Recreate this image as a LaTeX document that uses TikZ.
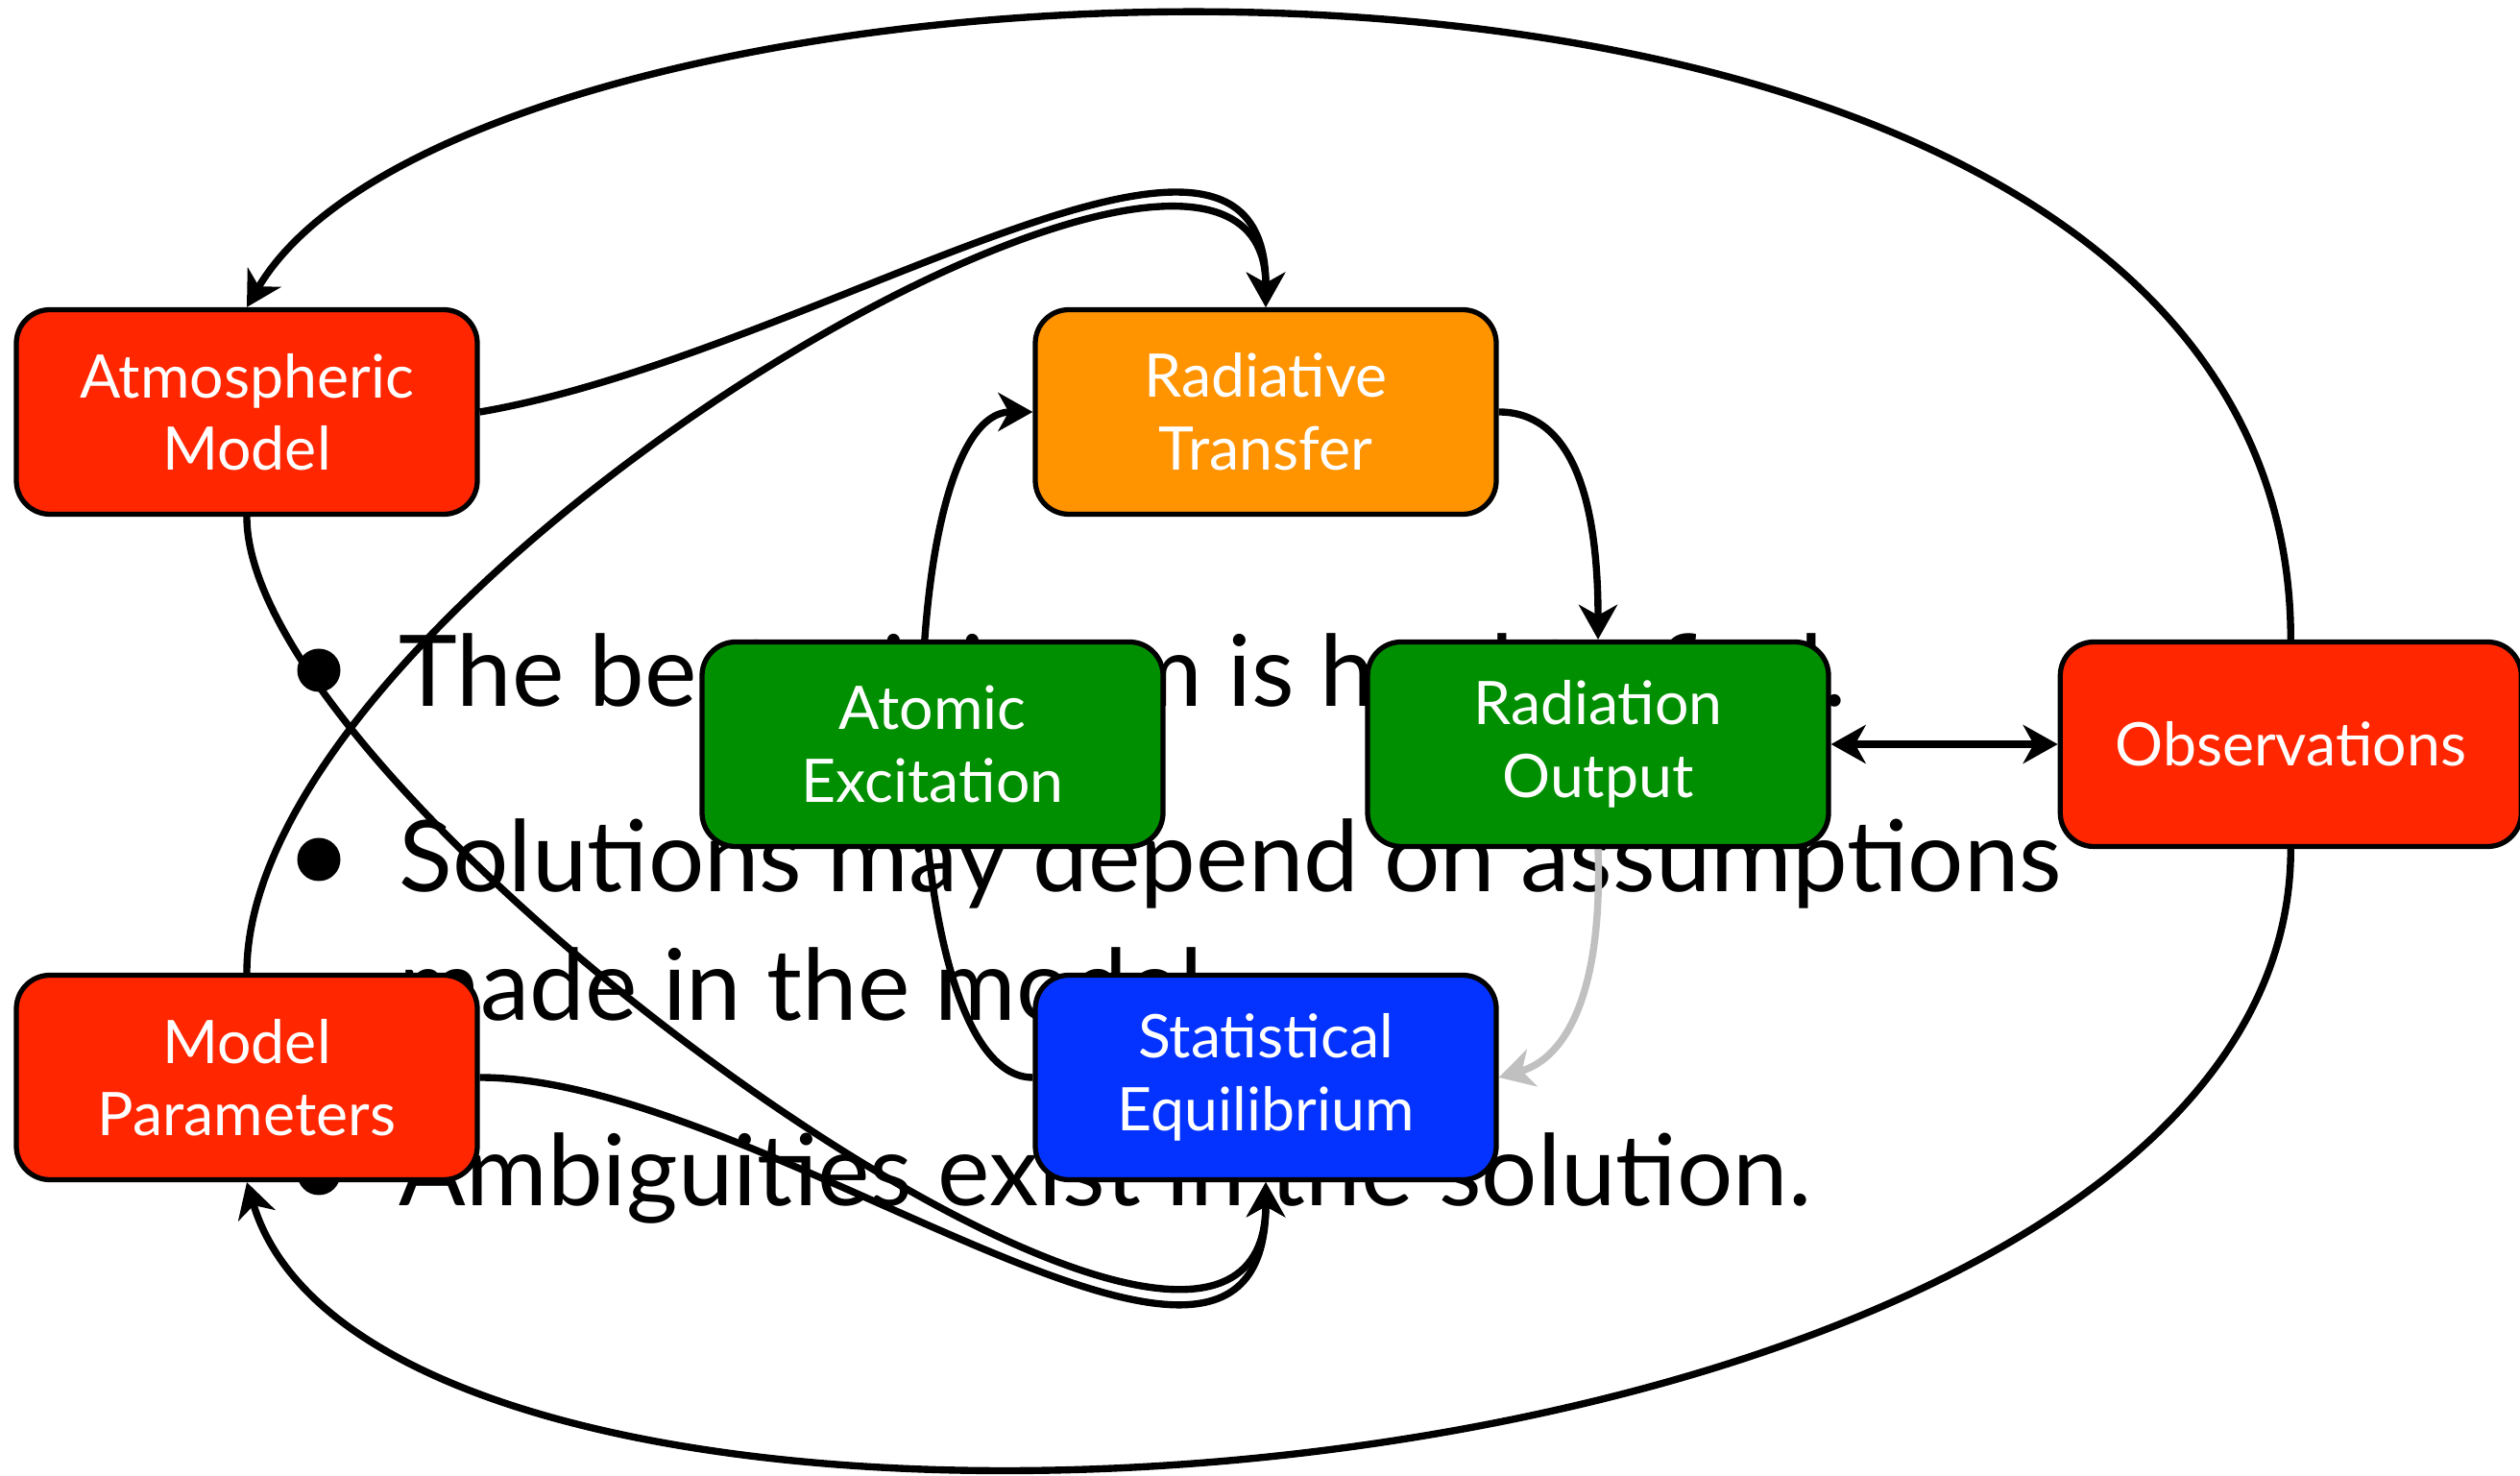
\documentclass[tikz,border=0pt]{standalone}
\usepackage{fontspec}
\setmainfont{Lato}
\usetikzlibrary{arrows.meta, positioning}

\definecolor{maraschino}{RGB}{255,38,0}
\definecolor{tangerine}{RGB}{255,147,0}
\definecolor{clover}{RGB}{0,143,0}
\definecolor{blueberry}{RGB}{4,51,255}
\definecolor{faintgray}{RGB}{192,192,192}

\pgfdeclarelayer{textlayer}
\pgfdeclarelayer{edgelayer}
\pgfsetlayers{textlayer,edgelayer,main}

\begin{document}
\begin{tikzpicture}[
    >={Stealth[length=0.36cm, width=0.4cm, inset=0.11cm]},
    every node/.style={font=\fontsize{17.8}{21.5}\selectfont},
    box/.style={draw=black, line width=1.5pt, rounded corners=0.35cm, minimum width=4.8cm, minimum height=2.13cm, align=center, text=white, inner sep=0pt},
    inp/.style={box, fill=maraschino},
    proc/.style={box, fill=tangerine},
    phys/.style={box, fill=clover},
    eqm/.style={box, fill=blueberry},
    link/.style={line width=2.1pt, ->},
    faint/.style={link, draw=faintgray, color=faintgray},
    bltxt/.style={anchor=base west, inner sep=0pt, font=\fontsize{29.3}{35}\selectfont},
    bdot/.style={circle, fill=black, minimum size=0.45cm, inner sep=0pt},
  ]
  \useasboundingbox (0,0) rectangle (26.24,-15.37);

  \node[inp] (atm) at (2.57,-4.29) {Atmospheric\\Model};
  \node[proc] (rad) at (13.18,-4.29) {Radiative\\Transfer};
  \node[phys] (atom) at (9.71,-7.75) {Atomic\\Excitation};
  \node[phys] (out) at (16.64,-7.75) {Radiation\\Output};
  \node[inp, right=2.36cm of out] (obs) {Observations};
  \node[inp] (par) at (2.57,-11.22) {Model\\Parameters};
  \node[eqm] (stat) at (13.18,-11.22) {Statistical\\Equilibrium};

  \begin{pgfonlayer}{textlayer}
    \fill[white] (0,0) rectangle (26.24,-15.37);
    \node[bdot] (dotone) at (3.32,-6.98) {};
    \node[bltxt] (itemone) at (4.15,-7.36) {The best minimum is hard to find.};
    \node[bdot] (dottwo) at (3.32,-8.95) {};
    \node[bltxt] (itemtwo) at (4.15,-9.29) {Solutions may depend on assumptions};
    \node[bltxt] (itemtwob) at (4.15,-10.63) {made in the model.};
    \node[bdot] (dotthree) at (3.32,-12.22) {};
    \node[bltxt] (itemthree) at (4.15,-12.55) {Ambiguities exist in the solution.};
  \end{pgfonlayer}

  \begin{pgfonlayer}{edgelayer}
    \draw[link] (obs.north) .. controls +(0,8.5) and +(2.4,4.1) .. (atm.north);
    \draw[link] (obs.south) .. controls +(0,-7) and +(1.5,-5) .. (par.south);
    \draw[link] (atm.east) .. controls +(3.5,0.6) and +(0,2.8) .. (rad.north);
    \draw[link] (par.north) .. controls +(0,4) and +(0,3.3) .. (rad.north);
    \draw[link] (atm.south) .. controls +(0,-3) and +(0,-3.7) .. (stat.south);
    \draw[link] (par.east) .. controls +(3,0) and +(0,-3.2) .. (stat.south);
    \draw[link] (rad.east) .. controls +(0.7,0) and +(0,1.6) .. (out.north);
    \draw[link] (stat.west) .. controls +(-1.5,0) and +(-1.5,0) .. (rad.west);
    \draw[faint] (out.south) .. controls +(0.05,-1.5) and +(0.7,0.2) .. (stat.east);
    \draw[link, <->] (out.east) -- (obs.west);
  \end{pgfonlayer}
\end{tikzpicture}
\end{document}
